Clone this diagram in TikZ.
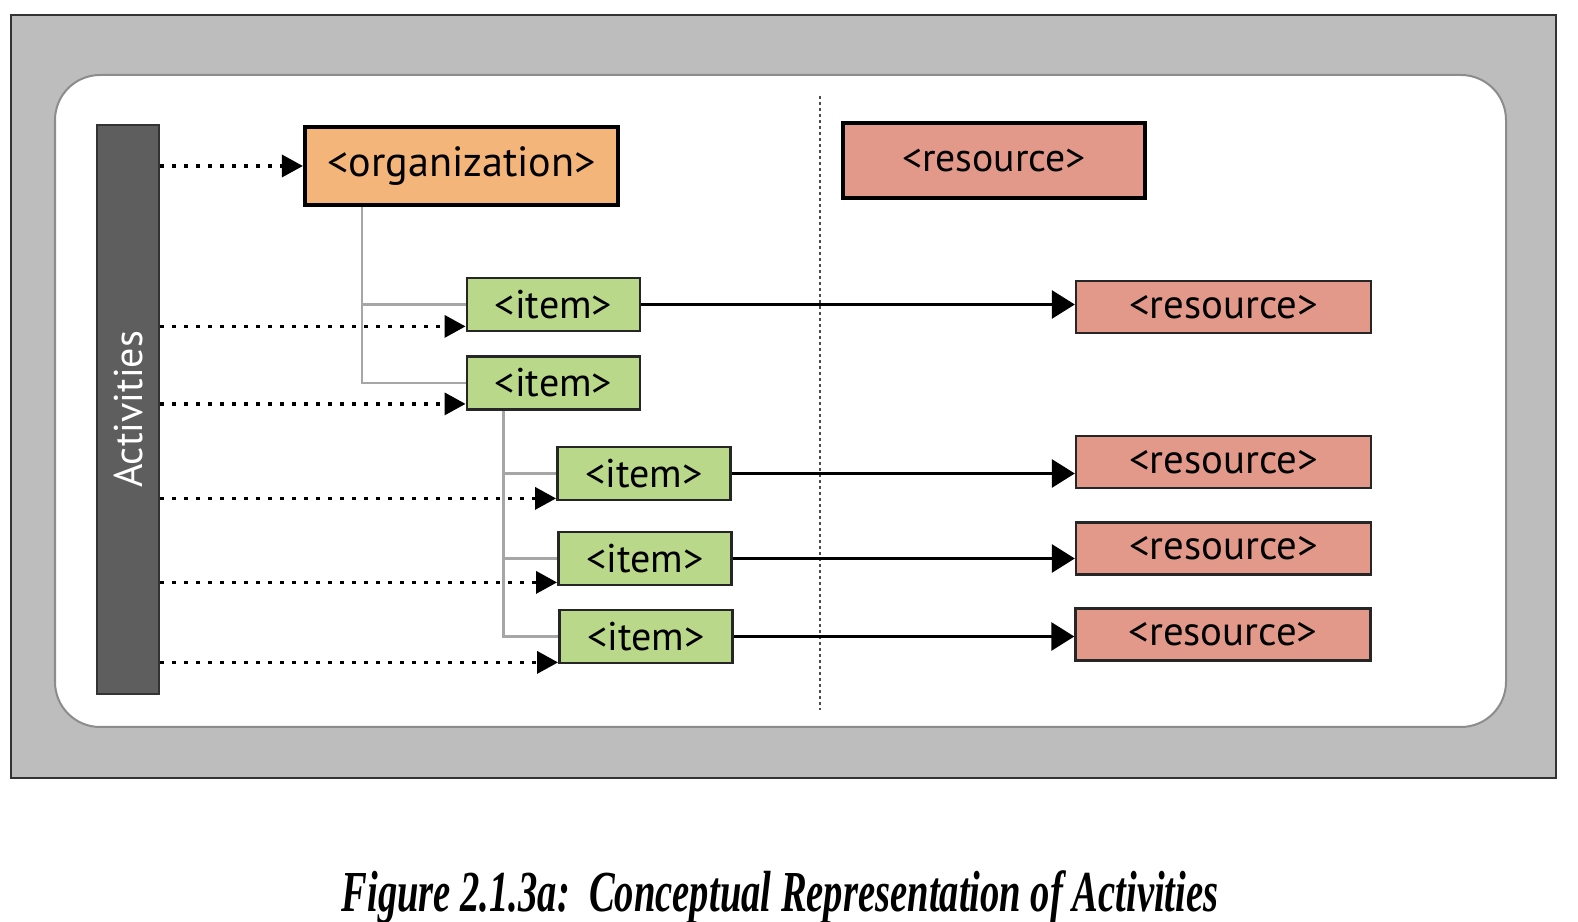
\documentclass[tikz,border=0pt]{standalone}
\usepackage{fontspec}
\setmainfont{Liberation Serif}
\setsansfont{PT Sans}
\usepackage{xcolor}
\usetikzlibrary{calc, arrows.meta}
\definecolor{framegray}{HTML}{BDBDBD}
\definecolor{bargray}{HTML}{5E5E5E}
\definecolor{orgorange}{HTML}{F4B57A}
\definecolor{itemgreen}{HTML}{BAD889}
\definecolor{respink}{HTML}{E3998A}
\definecolor{treegray}{HTML}{A6A6A6}
\begin{document}
\begin{tikzpicture}[x=0.01cm, y=-0.01cm, font=\sffamily,
    orgnode/.style={draw=black, line width=0.04cm, fill=orgorange, minimum width=3.13cm, minimum height=0.78cm, inner sep=0pt, font=\sffamily\fontsize{12}{14}\selectfont},
    bigres/.style={draw=black, line width=0.04cm, fill=respink, minimum width=3.02cm, minimum height=0.75cm, inner sep=0pt, font=\sffamily\fontsize{11.3}{14}\selectfont},
    itemnode/.style={draw=black!85, line width=0.028cm, fill=itemgreen, minimum width=1.73cm, minimum height=0.53cm, inner sep=0pt, font=\sffamily\fontsize{11.4}{14}\selectfont},
    resnode/.style={draw=black!85, line width=0.022cm, fill=respink, minimum width=2.95cm, minimum height=0.52cm, inner sep=0pt, font=\sffamily\fontsize{11.6}{14}\selectfont},
    actbar/.style={draw=black!80, line width=0.02cm, fill=bargray, minimum width=0.62cm, minimum height=5.69cm, inner sep=0pt},
    tree/.style={draw=treegray, line width=0.022cm},
    link/.style={line width=0.03cm, -{Triangle[length=0.23cm, width=0.28cm]}},
    dots/.style={line width=0.035cm, dash pattern=on 0.035cm off 0.085cm, -{Triangle[length=0.21cm, width=0.22cm]}} ]
    \useasboundingbox (0,0) rectangle (1578,922);
    % frame
    \draw [fill=framegray, draw=black!80, line width=0.02cm] (11,15) rectangle (1556,778);
    \draw [fill=white, draw=black!45, line width=0.02cm, rounded corners=0.45cm] (55,75) rectangle (1506,727);
    \draw [black!70, line width=0.015cm, dash pattern=on 0.03cm off 0.03cm] (820,96) -- (820,710);
    % nodes
    \node at (128,409.5) [actbar] (act) {};
    \node at (act.center) [rotate=90, text=white, font=\sffamily\fontsize{11.4}{14}\selectfont] (actlabel) {Activities};
    \node at (461.5,166) [orgnode] (org) {<organization>};
    \node at (994,160.5) [bigres] (res0) {<resource>};
    \node at (553.5,304.5) [itemnode] (i1) {<item>};
    \node at (553.5,383) [itemnode] (i2) {<item>};
    \node at (644,473.5) [itemnode] (i3) {<item>};
    \node at (645,558.5) [itemnode] (i4) {<item>};
    \node at (646,636.5) [itemnode] (i5) {<item>};
    \node at (1223.5,307) [resnode] (r1) {<resource>};
    \node at (1223.5,462) [resnode] (r2) {<resource>};
    \node at (1223.5,548.5) [resnode] (r3) {<resource>};
    \node at (1223,634.5) [resnode] (r4) {<resource>};
    % tree lines
    \coordinate (t1) at ($(org.south west)+(59,0)$);
    \coordinate (t2) at ($(i2.south west)+(38,0)$);
    \draw [tree] (t1) |- (i1.west);
    \draw [tree] (t1) |- (i2.west);
    \draw [tree] (t2) |- (i3.west);
    \draw [tree] (t2) |- (i4.west);
    \draw [tree] (t2) |- (i5.west);
    % item to resource
    \draw [link] (i1.east) to (i1.east -| r1.west);
    \draw [link] (i3.east) to (i3.east -| r2.west);
    \draw [link] (i4.east) to (i4.east -| r3.west);
    \draw [link] (i5.east) to (i5.east -| r4.west);
    % activities
    \coordinate (e1) at ($(i1.south west)+(0,-6)$);
    \coordinate (e2) at ($(i2.south west)+(0,-7)$);
    \coordinate (e3) at ($(i3.south west)+(0,-3)$);
    \coordinate (e4) at ($(i4.south west)+(0,-4)$);
    \coordinate (e5) at ($(i5.south west)+(0,-2)$);
    \draw [dots] (act.east |- org.west) to (org.west);
    \foreach \e in {e1,e2,e3,e4,e5}
      \draw [dots] (act.east |- \e) to (\e);
    % caption
    \node at (780,897) [font=\rmfamily\bfseries\itshape\fontsize{16.5}{19}\selectfont, xscale=0.665] (caption) {Figure 2.1.3a:\ \ Conceptual Representation of Activities};
\end{tikzpicture}
\end{document}
